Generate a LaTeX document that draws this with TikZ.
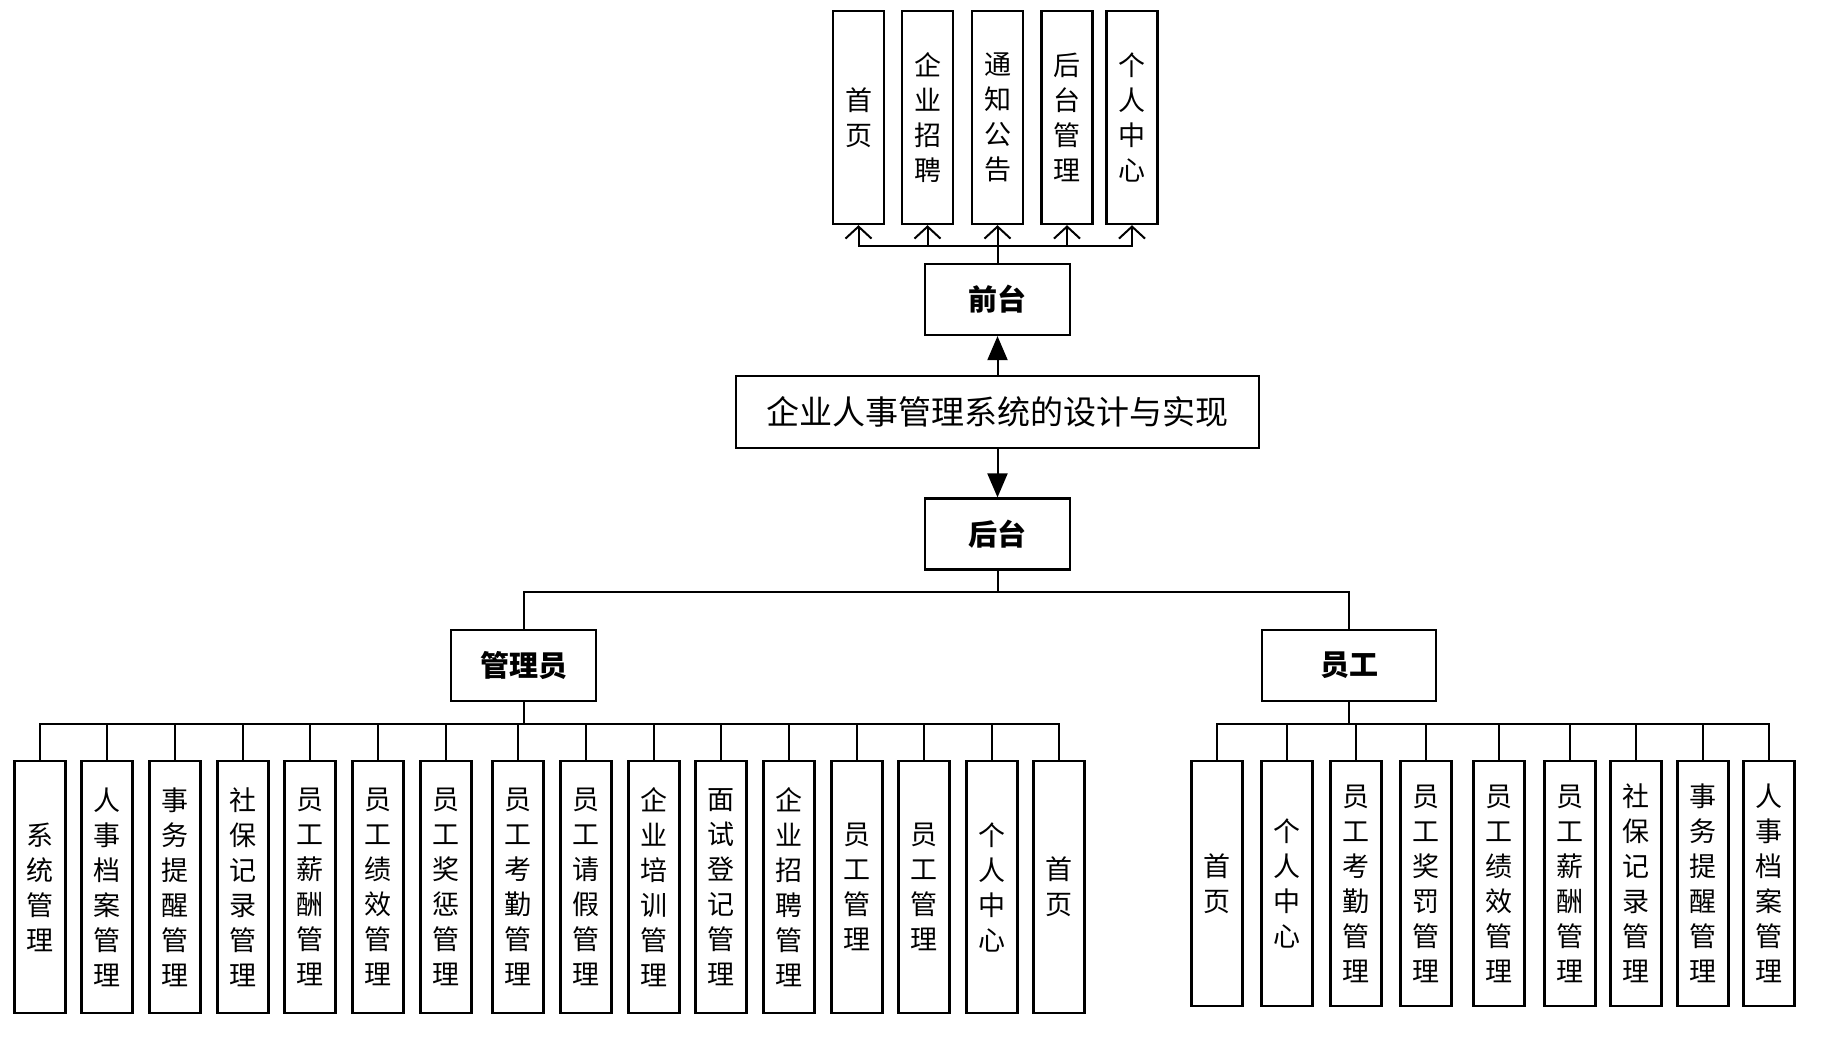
\documentclass[tikz,border=0pt]{standalone}
\usepackage{fontspec}
\setmainfont{Noto Sans CJK SC}
\usetikzlibrary{arrows.meta}
\newcommand\vtext[1]{\expandafter\vtextA#1\relax}
\def\vtextA#1#2{#1\ifx\relax#2\else\\\expandafter\vtextA\expandafter#2\fi}

\begin{document}
\begin{tikzpicture}[x=1pt,y=-1pt,
  box/.style={draw,line width=2.2pt,fill=white,inner sep=0pt},
  leaf/.style={box,minimum width=51pt,anchor=north,align=center,font=\fontsize{27}{35}\selectfont},
  mid/.style={box,minimum width=145pt,minimum height=71pt,font=\fontsize{29}{32}\selectfont\bfseries},
  link/.style={line width=2pt},
  up/.style={link,-{Straight Barb[length=12pt,width=26pt]}},
  big/.style={link,-{Triangle[length=24pt,width=20pt]}}]
\useasboundingbox (0,0) rectangle (1829,1037);
\node[box,minimum width=523pt,minimum height=72pt,font=\fontsize{33}{36}\selectfont] (sys) at (997.5,412) {企业人事管理系统的设计与实现};
\node[mid] (qt) at (997.5,299.5) {前台};
\node[mid] (ht) at (997.5,534) {后台};
\node[mid] (admin) at (523.5,665.5) {管理员};
\node[mid,minimum width=174pt] (staff) at (1349,665.5) {员工};
\draw[big] (sys) -- (qt);
\draw[big] (sys) -- (ht);
\draw[link] (ht.south) -- ++(0,21) -| (admin.north);
\draw[link] (ht.south) -- ++(0,21) -| (staff.north);
\foreach \x/\t [count=\i] in {858.5/首页,927.5/企业招聘,997.5/通知公告,1067/后台管理,1132/个人中心}{
  \node[leaf,minimum height=213pt] (f\i) at (\x,10) {\vtext{\t}};
  \draw[up] (qt.north) -- ++(0,-17) -| (f\i.south);}
\foreach \x/\t [count=\i] in {40/系统管理,107/人事档案管理,175/事务提醒管理,243/社保记录管理,310/员工薪酬管理,378/员工绩效管理,446/员工奖惩管理,518/员工考勤管理,586/员工请假管理,654/企业培训管理,721/面试登记管理,789/企业招聘管理,857/员工管理,924/员工管理,992/个人中心,1059/首页}{
  \node[leaf,minimum height=252pt] (a\i) at (\x,760) {\vtext{\t}};
  \draw[link] (admin.south) -- ++(0,22) -| (a\i.north);}
\foreach \x/\t [count=\i] in {1217/首页,1287/个人中心,1356/员工考勤管理,1426/员工奖罚管理,1499/员工绩效管理,1570/员工薪酬管理,1636/社保记录管理,1703/事务提醒管理,1769/人事档案管理}{
  \node[leaf,minimum height=245pt] (s\i) at (\x,760) {\vtext{\t}};
  \draw[link] (staff.south) -- ++(0,22) -| (s\i.north);}
\end{tikzpicture}
\end{document}
